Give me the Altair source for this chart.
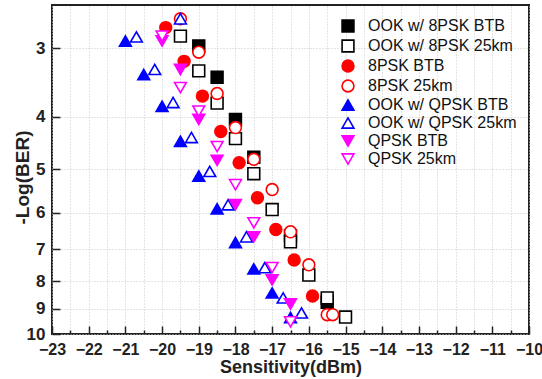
import altair as alt
import pandas as pd

series_names = ["OOK w/ 8PSK BTB", "OOK w/ 8PSK 25km", "8PSK BTB", "8PSK 25km",
                "OOK w/ QPSK BTB", "OOK w/ QPSK 25km", "QPSK BTB", "QPSK 25km"]

ook8_btb_x = [-19.0, -18.5, -18.0, -17.5, -16.5, -15.5]
ook8_btb_y = [2.97, 3.39, 4.05, 4.75, 6.61, 8.75]

ook8_25_x = [-19.5, -19.0, -18.5, -18.0, -17.5, -17.0, -16.5, -16.0, -15.5, -15.0]
ook8_25_y = [2.85, 3.30, 3.78, 4.39, 5.09, 5.92, 6.78, 7.80, 8.59, 9.31]

psk8_btb_x = [-19.9, -19.4, -18.9, -18.4, -17.9, -17.4, -16.9, -16.4, -15.9]
psk8_btb_y = [2.75, 3.17, 3.67, 4.26, 4.86, 5.63, 6.44, 7.32, 8.52]

psk8_25_x = [-19.5, -19.0, -18.5, -18.0, -17.5, -17.0, -16.5, -16.0, -15.5, -15.35]
psk8_25_y = [2.65, 3.05, 3.63, 4.19, 4.79, 5.44, 6.50, 7.47, 9.22, 9.22]

ookq_btb_x = [-21.0, -20.5, -20.0, -19.5, -19.0, -18.5, -18.0, -17.5, -17.0, -16.5]
ookq_btb_y = [2.91, 3.35, 3.83, 4.44, 5.14, 5.90, 6.80, 7.60, 8.41, 9.33]

ookq_25_x = [-19.5, -20.7, -20.2, -19.7, -19.2, -18.7, -18.2, -17.7, -17.2, -16.7, -16.2]
ookq_25_y = [2.65, 2.86, 3.28, 3.77, 4.37, 5.04, 5.80, 6.64, 7.56, 8.59, 9.15]

qpsk_btb_x = [-20.0, -19.5, -19.0, -18.5, -18.0, -17.5, -17.0, -16.5]
qpsk_btb_y = [2.91, 3.28, 4.05, 4.81, 5.80, 6.64, 7.96, 8.81]

qpsk_25_x = [-20.0, -19.5, -19.0, -18.5, -18.0, -17.5, -17.0, -16.5]
qpsk_25_y = [2.85, 3.54, 3.91, 4.54, 5.33, 6.26, 7.56, 9.50]

x_major = list(range(-23, -9))
x_minor = [v + 0.5 for v in range(-23, -10)]
y_ticks = [3, 4, 5, 6, 7, 8, 9, 10]

all_x = [ook8_btb_x, ook8_25_x, psk8_btb_x, psk8_25_x, ookq_btb_x, ookq_25_x, qpsk_btb_x, qpsk_25_x]
all_y = [ook8_btb_y, ook8_25_y, psk8_btb_y, psk8_25_y, ookq_btb_y, ookq_25_y, qpsk_btb_y, qpsk_25_y]

rows = []
for name, xs, ys in zip(series_names, all_x, all_y):
    for xv, yv in zip(xs, ys):
        rows.append({"series": name, "sens": xv, "ber": yv})
df = pd.DataFrame(rows)

shapes = ["square", "square", "circle", "circle", "triangle-up", "triangle-up", "triangle-down", "triangle-down"]
strokes = ["#000000", "#000000", "#ff0000", "#ff0000", "#0000ff", "#0000ff", "#ff00ff", "#ff00ff"]
fills = ["#000000", "#ffffff", "#ff0000", "#ffffff", "#0000ff", "#ffffff", "#ff00ff", "#ffffff"]
sizes = [140, 140, 170, 170, 250, 250, 250, 250]

W, H = 477, 329
FONT = "Liberation Sans"

xscale = alt.Scale(domain=[-23, -10], nice=False, zero=False)
yscale = alt.Scale(type="log", domain=[2.5, 10], reverse=True, nice=False)

legend = alt.Legend(title=None, orient="none", legendX=288, legendY=13,
                    labelFont=FONT, labelFontSize=16, labelColor="#111",
                    symbolStrokeWidth=1.6, rowPadding=0, labelOffset=12, padding=0)

points = alt.Chart(df).mark_point(filled=False, strokeWidth=1.6, opacity=1).encode(
    x=alt.X("sens:Q", scale=xscale,
            axis=alt.Axis(values=x_major + x_minor, orient="bottom", title="Sensitivity(dBm)",
                          labelExpr="datum.value % 1 === 0 ? format(datum.value, 'd') : ''",
                          tickSize=0, domain=False, grid=True, gridColor="#c8c8c8", gridDash=[1, 2],
                          labelFont=FONT, labelFontSize=16, labelFontWeight="bold", labelColor="#222",
                          labelPadding=7, labelFlush=False,
                          titleFont=FONT, titleFontSize=18, titleFontWeight="bold", titleColor="#222",
                          titlePadding=1)),
    y=alt.Y("ber:Q", scale=yscale,
            axis=alt.Axis(values=y_ticks, orient="left", title="-Log(BER)", format="d",
                          tickSize=0, domain=False, grid=True, gridColor="#c8c8c8", gridDash=[1, 2],
                          labelFont=FONT, labelFontSize=17, labelFontWeight="bold", labelColor="#222",
                          labelPadding=7,
                          titleFont=FONT, titleFontSize=19, titleFontWeight="bold", titleColor="#222",
                          titleX=-30, titleY=172, titleBaseline="middle")),
    shape=alt.Shape("series:N", scale=alt.Scale(domain=series_names, range=shapes), legend=legend),
    stroke=alt.Stroke("series:N", scale=alt.Scale(domain=series_names, range=strokes), legend=legend),
    fill=alt.Fill("series:N", scale=alt.Scale(domain=series_names, range=fills), legend=legend),
    size=alt.Size("series:N", scale=alt.Scale(domain=series_names, range=sizes), legend=legend),
)

base = alt.Chart(df).mark_point(opacity=0)

x_major_ticks = base.encode(
    x=alt.X("sens:Q", scale=xscale,
            axis=alt.Axis(values=x_major, orient="bottom", offset=-8, tickSize=8, tickWidth=1.5,
                          tickColor="#222", labels=False, domain=False, grid=False, title=None)),
    y=alt.Y("ber:Q", scale=yscale, axis=None),
)
x_minor_ticks = base.encode(
    x=alt.X("sens:Q", scale=xscale,
            axis=alt.Axis(values=x_minor, orient="bottom", offset=-4, tickSize=4, tickWidth=1.5,
                          tickColor="#222", labels=False, domain=False, grid=False, title=None)),
    y=alt.Y("ber:Q", scale=yscale, axis=None),
)
y_major_ticks = base.encode(
    x=alt.X("sens:Q", scale=xscale, axis=None),
    y=alt.Y("ber:Q", scale=yscale,
            axis=alt.Axis(values=y_ticks, orient="left", offset=-8, tickSize=8, tickWidth=1.5,
                          tickColor="#222", labels=False, domain=False, grid=False, title=None)),
)

chart = alt.layer(x_major_ticks, x_minor_ticks, y_major_ticks, points).resolve_axis(
    x="independent", y="independent"
).properties(
    width=W, height=H,
    autosize=alt.AutoSizeParams(type="none"),
    padding={"left": 52, "top": 5, "right": 13, "bottom": 45},
    background="white",
).configure_view(stroke="#222", strokeWidth=2)

chart.save("out.html", embed_options={"renderer": "svg", "actions": False})
